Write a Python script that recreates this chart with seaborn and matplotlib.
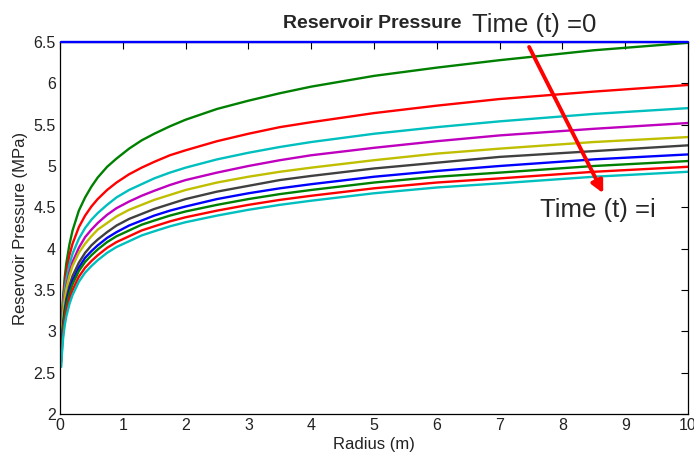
import matplotlib
matplotlib.use("Agg")
import matplotlib.pyplot as plt
import seaborn as sns
import pandas as pd

radius = [0.02, 0.03, 0.05, 0.075, 0.1, 0.15, 0.2, 0.3, 0.4, 0.5, 0.6, 0.75, 0.9,
          1.1, 1.3, 1.5, 1.75, 2, 2.5, 3, 3.5, 4, 5, 6, 7, 8.5, 10]

# Reservoir pressure (MPa) for each time step, t = 0 ... i
p_t0 = [6.5] * 27
p_t1 = [2.89, 3.12, 3.42, 3.65, 3.82, 4.05, 4.22, 4.46, 4.62, 4.75, 4.86, 4.99, 5.09,
        5.21, 5.31, 5.39, 5.48, 5.56, 5.69, 5.79, 5.88, 5.96, 6.09, 6.19, 6.28, 6.40, 6.49]
p_t2 = [2.93, 3.13, 3.38, 3.58, 3.72, 3.92, 4.06, 4.26, 4.40, 4.51, 4.60, 4.71, 4.80,
        4.90, 4.98, 5.05, 5.13, 5.19, 5.30, 5.39, 5.47, 5.53, 5.64, 5.73, 5.81, 5.90, 5.98]
p_t3 = [2.90, 3.09, 3.32, 3.50, 3.63, 3.81, 3.94, 4.12, 4.25, 4.35, 4.43, 4.53, 4.62,
        4.71, 4.78, 4.85, 4.92, 4.98, 5.08, 5.16, 5.23, 5.29, 5.39, 5.47, 5.54, 5.63, 5.70]
p_t4 = [2.85, 3.02, 3.24, 3.42, 3.54, 3.71, 3.84, 4.01, 4.14, 4.23, 4.31, 4.41, 4.49,
        4.57, 4.64, 4.70, 4.77, 4.83, 4.92, 5.00, 5.07, 5.13, 5.22, 5.30, 5.37, 5.45, 5.52]
p_t5 = [2.86, 3.03, 3.23, 3.39, 3.51, 3.67, 3.79, 3.95, 4.06, 4.15, 4.23, 4.31, 4.39,
        4.47, 4.53, 4.59, 4.65, 4.71, 4.80, 4.87, 4.93, 4.98, 5.07, 5.15, 5.21, 5.29, 5.35]
p_t6 = [2.73, 2.90, 3.10, 3.27, 3.39, 3.55, 3.67, 3.83, 3.95, 4.04, 4.11, 4.20, 4.28,
        4.36, 4.42, 4.48, 4.54, 4.60, 4.69, 4.76, 4.83, 4.88, 4.97, 5.04, 5.11, 5.18, 5.25]
p_t7 = [2.72, 2.87, 3.07, 3.23, 3.34, 3.50, 3.61, 3.77, 3.89, 3.97, 4.04, 4.13, 4.20,
        4.28, 4.34, 4.40, 4.46, 4.51, 4.60, 4.67, 4.73, 4.78, 4.87, 4.94, 5.00, 5.08, 5.14]
p_t8 = [2.70, 2.85, 3.05, 3.20, 3.31, 3.46, 3.57, 3.73, 3.84, 3.92, 3.99, 4.08, 4.15,
        4.22, 4.29, 4.34, 4.40, 4.45, 4.53, 4.60, 4.66, 4.71, 4.80, 4.87, 4.92, 5.00, 5.06]
p_t9 = [2.63, 2.78, 2.98, 3.13, 3.24, 3.39, 3.50, 3.66, 3.77, 3.85, 3.92, 4.01, 4.08,
        4.15, 4.22, 4.27, 4.33, 4.38, 4.46, 4.53, 4.59, 4.64, 4.73, 4.80, 4.85, 4.93, 4.99]
p_t10 = [2.57, 2.72, 2.92, 3.07, 3.18, 3.33, 3.44, 3.60, 3.71, 3.79, 3.86, 3.95, 4.02,
         4.09, 4.16, 4.21, 4.27, 4.32, 4.40, 4.47, 4.53, 4.58, 4.67, 4.74, 4.79, 4.87, 4.93]

series_names = ["t0", "t1", "t2", "t3", "t4", "t5", "t6", "t7", "t8", "t9", "t10"]
series_values = [p_t0, p_t1, p_t2, p_t3, p_t4, p_t5, p_t6, p_t7, p_t8, p_t9, p_t10]

x_ticks = [0, 1, 2, 3, 4, 5, 6, 7, 8, 9, 10]
x_tick_labels = ["0", "1", "2", "3", "4", "5", "6", "7", "8", "9", "10"]
y_ticks = [2, 2.5, 3, 3.5, 4, 4.5, 5, 5.5, 6, 6.5]
y_tick_labels = ["2", "2.5", "3", "3.5", "4", "4.5", "5", "5.5", "6", "6.5"]

# MATLAB classic colour order
colors = [(0, 0, 1), (0, 0.5, 0), (1, 0, 0), (0, 0.75, 0.75), (0.75, 0, 0.75),
          (0.75, 0.75, 0), (0.25, 0.25, 0.25), (0, 0, 1), (0, 0.5, 0), (1, 0, 0),
          (0, 0.75, 0.75)]

rows = []
for name, vals in zip(series_names, series_values):
    for r, p in zip(radius, vals):
        rows.append({"Radius": r, "Pressure": p, "Time": name})
df = pd.DataFrame(rows)

sns.set_theme(style="white")
plt.rcParams["font.family"] = ["Liberation Sans", "DejaVu Sans"]

fig = plt.figure(figsize=(6.94, 4.57), dpi=100)
ax = fig.add_axes([60 / 694, 1 - 414 / 457, 628 / 694, 372 / 457])

sns.lineplot(data=df, x="Radius", y="Pressure", hue="Time", hue_order=series_names,
             palette=colors, estimator=None, sort=False, linewidth=1.7,
             legend=False, ax=ax)
ax.lines[0].set_clip_on(False)
ax.lines[0].set_zorder(5)

ax.set_xlim(0, 10)
ax.set_ylim(2, 6.5)
ax.set_xticks(x_ticks)
ax.set_xticklabels(x_tick_labels)
ax.set_yticks(y_ticks)
ax.set_yticklabels(y_tick_labels)
ax.tick_params(direction="in", length=5, width=0.8, top=True, right=True,
               labelsize=11.5, colors="black", labelcolor="#222222", pad=3)
for s in ax.spines.values():
    s.set_color("black")
    s.set_linewidth(0.9)
    s.set_visible(True)

ax.set_xlabel("Radius (m)", fontsize=12, color="#222222", labelpad=3)
ax.set_ylabel("Reservoir Pressure (MPa)", fontsize=12, color="#222222", labelpad=4)

fig.text(283 / 694, 1 - 28 / 457, "Reservoir Pressure", fontsize=14,
         fontweight="bold", ha="left", va="baseline")
fig.text(472 / 694, 1 - 32 / 457, "Time (t) =0", fontsize=18.5,
         ha="left", va="baseline")
fig.text(540 / 694, 1 - 217 / 457, "Time (t) =i", fontsize=18.5,
         ha="left", va="baseline")

ax.annotate("", xy=(8.65, 4.67), xytext=(7.47, 6.44), xycoords="data",
            arrowprops=dict(arrowstyle="-|>", color="red", lw=2.8,
                            mutation_scale=18, shrinkA=0, shrinkB=0),
            annotation_clip=False, zorder=6)

fig.savefig("out.png", dpi=100, facecolor="white")
